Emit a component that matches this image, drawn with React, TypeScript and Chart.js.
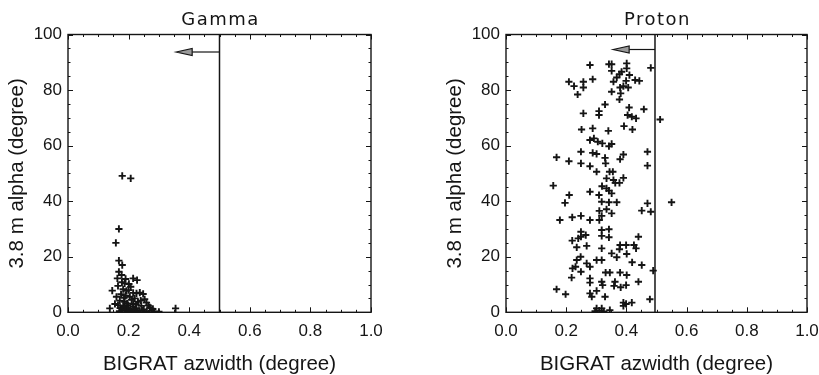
import React, { useEffect, useRef } from 'react';
import { Chart, registerables } from 'chart.js';

Chart.register(...registerables);

// ---------- data ----------
const panelTitles = ['Gamma', 'Proton'];
const xTitle = 'BIGRAT azwidth (degree)';
const yTitle = '3.8 m alpha (degree)';
const xTickValues = [0, 0.2, 0.4, 0.6, 0.8, 1.0];
const yTickValues = [0, 20, 40, 60, 80, 100];
const cutValues = [0.5, 0.495];
const arrowYValues = [93.7, 94.6];
const arrowTipValues = [0.357, 0.356];

const gammaPoints: [number, number][] = [
  [0.179, 49.1], [0.207, 48.2], [0.168, 30.0], [0.158, 25.0], [0.168, 18.6], [0.179, 17.0],
  [0.168, 14.6], [0.177, 13.4], [0.190, 12.0], [0.163, 12.2], [0.215, 12.2], [0.228, 11.6],
  [0.187, 10.4], [0.201, 10.2], [0.165, 9.5], [0.207, 9.2], [0.146, 7.8], [0.182, 8.3],
  [0.193, 7.7], [0.226, 6.8], [0.237, 7.1], [0.248, 6.6], [0.160, 5.6], [0.204, 5.6],
  [0.220, 5.0], [0.253, 4.7], [0.171, 4.2], [0.187, 3.8], [0.231, 3.8], [0.259, 3.5],
  [0.165, 2.6], [0.182, 2.3], [0.198, 2.6], [0.215, 2.0], [0.242, 2.3], [0.138, 1.4],
  [0.355, 1.4], [0.270, 1.8], [0.178, 0.8], [0.190, 0.5], [0.200, 1.2], [0.210, 0.4],
  [0.220, 0.9], [0.235, 0.5], [0.250, 1.0], [0.260, 0.3], [0.275, 0.6], [0.285, 0.3],
  [0.300, 0.2], [0.172, 1.5], [0.185, 1.9], [0.195, 3.2], [0.205, 0.8], [0.215, 3.0],
  [0.225, 1.5], [0.240, 4.2], [0.175, 6.5], [0.185, 5.2], [0.210, 4.5], [0.225, 2.8],
  [0.195, 0.3], [0.230, 0.2], [0.245, 0.6], [0.170, 0.4], [0.155, 3.0], [0.265, 2.5],
  [0.280, 1.2], [0.190, 6.0], [0.200, 8.0], [0.215, 7.0], [0.178, 10.8],
];

const protonPoints: [number, number][] = [
  [0.279, 89.0], [0.342, 89.3], [0.351, 89.3], [0.401, 89.6], [0.481, 88.0], [0.351, 86.9],
  [0.401, 87.8], [0.377, 85.7], [0.368, 84.5], [0.384, 86.6], [0.288, 83.9], [0.410, 85.4],
  [0.399, 83.3], [0.429, 83.6], [0.443, 83.3], [0.209, 83.0], [0.226, 81.4], [0.257, 83.0],
  [0.257, 80.9], [0.238, 78.4], [0.357, 83.0], [0.351, 79.4], [0.379, 80.9], [0.390, 81.4],
  [0.406, 80.9], [0.377, 76.6], [0.381, 78.8], [0.329, 74.8], [0.409, 73.7], [0.458, 73.1],
  [0.309, 72.4], [0.309, 71.0], [0.257, 71.6], [0.404, 71.0], [0.418, 70.4], [0.432, 69.8],
  [0.512, 69.4], [0.392, 67.0], [0.420, 65.8], [0.251, 65.8], [0.288, 66.2], [0.340, 65.3],
  [0.279, 62.0], [0.292, 62.6], [0.305, 61.4], [0.320, 60.8], [0.342, 59.8], [0.351, 60.6],
  [0.249, 57.8], [0.288, 57.4], [0.301, 57.0], [0.168, 55.8], [0.209, 54.4], [0.249, 53.6],
  [0.329, 55.6], [0.331, 53.6], [0.279, 52.6], [0.301, 50.6], [0.344, 50.6], [0.355, 50.6],
  [0.390, 56.8], [0.379, 55.1], [0.470, 57.8], [0.470, 52.8], [0.334, 48.2], [0.357, 47.6],
  [0.377, 46.6], [0.363, 46.6], [0.390, 48.4], [0.157, 45.6], [0.319, 45.4], [0.334, 44.6],
  [0.342, 43.8], [0.279, 43.4], [0.309, 42.2], [0.351, 42.8], [0.210, 42.2], [0.196, 39.4],
  [0.318, 39.8], [0.342, 39.6], [0.368, 39.6], [0.550, 39.6], [0.470, 39.2], [0.451, 36.6],
  [0.481, 36.2], [0.334, 37.1], [0.351, 35.6], [0.310, 36.5], [0.179, 33.2], [0.220, 34.2],
  [0.249, 34.7], [0.279, 33.2], [0.310, 33.2], [0.318, 34.7], [0.249, 29.0], [0.220, 25.8],
  [0.240, 26.6], [0.249, 27.2], [0.265, 27.8], [0.318, 29.6], [0.342, 29.9], [0.318, 27.5],
  [0.342, 27.0], [0.440, 27.2], [0.235, 23.4], [0.268, 23.9], [0.318, 23.0], [0.379, 24.2],
  [0.399, 24.2], [0.425, 24.2], [0.432, 23.0], [0.351, 21.2], [0.377, 22.7], [0.401, 21.0],
  [0.368, 19.8], [0.248, 20.0], [0.235, 18.8], [0.301, 18.8], [0.318, 18.8], [0.419, 18.0],
  [0.451, 17.0], [0.489, 15.0], [0.221, 15.8], [0.231, 16.4], [0.268, 17.6], [0.279, 16.4],
  [0.249, 14.6], [0.218, 12.5], [0.279, 12.2], [0.279, 10.7], [0.331, 14.3], [0.345, 14.3],
  [0.379, 14.3], [0.401, 13.4], [0.318, 11.0], [0.321, 9.8], [0.362, 11.0], [0.359, 9.5],
  [0.381, 9.0], [0.399, 9.8], [0.440, 11.0], [0.168, 8.3], [0.198, 6.5], [0.279, 6.8],
  [0.285, 5.6], [0.301, 7.7], [0.329, 5.6], [0.478, 4.7], [0.390, 3.5], [0.399, 3.0],
  [0.418, 3.5], [0.301, 1.4], [0.318, 1.4], [0.310, 0.6], [0.345, 0.8], [0.390, 2.3],
  [0.296, 0.4], [0.325, 0.3],
];

const panelData = [gammaPoints, protonPoints];

// ---------- layout / style ----------
const H = 375;
const AREA_TOP = 34.5;
const AREA_BOTTOM = 312.3;
const panels = [
  { left: 0, width: 410, areaLeft: 68, areaRight: 371, yTitleX: 17 },
  { left: 410, width: 440, areaLeft: 96, areaRight: 397, yTitleX: 45 },
];
const INK = '#151515';
const SANS = '"Liberation Sans", Arial, sans-serif';

function makeFramePlugin(i: number) {
  return {
    id: 'frame' + i,
    afterDatasetsDraw(chart: any) {
      const { ctx, chartArea } = chart;
      const { left, right, top, bottom } = chartArea;
      const xs = chart.scales.x;
      const ys = chart.scales.y;
      ctx.save();
      ctx.strokeStyle = INK;
      // ticks
      ctx.lineWidth = 1;
      const drawX = (v: number, len: number) => {
        const p = Math.round(xs.getPixelForValue(v)) + 0.5;
        ctx.beginPath();
        ctx.moveTo(p, bottom); ctx.lineTo(p, bottom - len);
        ctx.moveTo(p, top); ctx.lineTo(p, top + len);
        ctx.stroke();
      };
      const drawY = (v: number, len: number) => {
        const p = Math.round(ys.getPixelForValue(v)) + 0.5;
        ctx.beginPath();
        ctx.moveTo(left, p); ctx.lineTo(left + len, p);
        ctx.moveTo(right, p); ctx.lineTo(right - len, p);
        ctx.stroke();
      };
      for (let k = 0; k < xTickValues.length - 1; k++) {
        const a = xTickValues[k], b = xTickValues[k + 1];
        for (let m = 1; m < 4; m++) drawX(a + ((b - a) * m) / 4, 2.5);
      }
      for (let k = 0; k < yTickValues.length - 1; k++) {
        const a = yTickValues[k], b = yTickValues[k + 1];
        for (let m = 1; m < 4; m++) drawY(a + ((b - a) * m) / 4, 2.5);
      }
      xTickValues.forEach((v) => drawX(v, 5));
      yTickValues.forEach((v) => drawY(v, 5));
      // box
      ctx.lineWidth = 1.4;
      ctx.strokeRect(left, top, right - left, bottom - top);
      // cut line
      const cx = xs.getPixelForValue(cutValues[i]);
      ctx.lineWidth = 1.5;
      ctx.beginPath();
      ctx.moveTo(cx, top); ctx.lineTo(cx, bottom);
      ctx.stroke();
      // arrow
      const ay = ys.getPixelForValue(arrowYValues[i]);
      const tx = xs.getPixelForValue(arrowTipValues[i]);
      const headLen = 16;
      ctx.lineWidth = 1.2;
      ctx.beginPath();
      ctx.moveTo(cx, ay); ctx.lineTo(tx + headLen, ay);
      ctx.stroke();
      ctx.beginPath();
      ctx.moveTo(tx, ay);
      ctx.lineTo(tx + headLen, ay - 3.5);
      ctx.lineTo(tx + headLen, ay + 3.5);
      ctx.closePath();
      ctx.fillStyle = '#9a9a9a';
      ctx.fill();
      ctx.stroke();
      // panel title
      ctx.fillStyle = INK;
      ctx.font = '18px "DejaVu Sans", sans-serif';
      (ctx as any).letterSpacing = '1.5px';
      ctx.textAlign = 'center';
      ctx.textBaseline = 'middle';
      ctx.fillText(panelTitles[i], (left + right) / 2 + 1, 20);
      ctx.restore();
    },
  };
}

function buildChart(canvas: HTMLCanvasElement, i: number) {
  const p = panels[i];
  return new Chart(canvas, {
    type: 'scatter',
    data: {
      datasets: [
        {
          data: panelData[i].map(([x, y]) => ({ x, y })),
          pointStyle: 'cross',
          pointRadius: 3.6,
          pointBorderWidth: 1.9,
          borderColor: INK,
          backgroundColor: INK,
        } as any,
      ],
    },
    options: {
      animation: false,
      responsive: false,
      maintainAspectRatio: false,
      devicePixelRatio: 1,
      layout: { padding: { left: 0, top: AREA_TOP, right: p.width - p.areaRight, bottom: 0 } },
      plugins: {
        legend: { display: false },
        tooltip: { enabled: false },
        title: { display: false },
      },
      scales: {
        x: {
          type: 'linear',
          min: 0,
          max: 1,
          grid: { display: false, drawTicks: false },
          border: { display: false },
          afterBuildTicks: (s: any) => {
            s.ticks = xTickValues.map((v) => ({ value: v }));
          },
          afterFit: (s: any) => {
            s.height = H - AREA_BOTTOM;
            s.paddingLeft = 0;
            s.paddingRight = 0;
          },
          ticks: {
            autoSkip: false,
            maxRotation: 0,
            padding: 9,
            color: INK,
            font: { family: SANS, size: 17 },
            callback: (v: any) => Number(v).toFixed(1),
          },
          title: {
            display: true,
            text: xTitle,
            color: INK,
            font: { family: SANS, size: 20.5, lineHeight: 1 },
            padding: { top: 0, bottom: 0 },
          },
        },
        y: {
          type: 'linear',
          min: 0,
          max: 100,
          grid: { display: false, drawTicks: false },
          border: { display: false },
          afterBuildTicks: (s: any) => {
            s.ticks = yTickValues.map((v) => ({ value: v }));
          },
          afterFit: (s: any) => {
            s.width = p.areaLeft;
            s.paddingTop = 0;
            s.paddingBottom = 0;
          },
          ticks: {
            autoSkip: false,
            padding: 6,
            color: INK,
            font: { family: SANS, size: 17 },
            callback: (v: any) => String(v),
          },
          title: {
            display: true,
            text: yTitle,
            color: INK,
            font: { family: SANS, size: 20.5, lineHeight: 1 },
            padding: { top: p.yTitleX - 10, bottom: 0 },
          },
        },
      },
    } as any,
    plugins: [makeFramePlugin(i)],
  });
}

export default function App() {
  const ref0 = useRef<HTMLCanvasElement>(null);
  const ref1 = useRef<HTMLCanvasElement>(null);

  useEffect(() => {
    const charts: Chart[] = [];
    if (ref0.current) charts.push(buildChart(ref0.current, 0));
    if (ref1.current) charts.push(buildChart(ref1.current, 1));
    return () => charts.forEach((c) => c.destroy());
  }, []);

  return (
    <div
      style={{
        position: 'fixed',
        left: 0,
        top: 0,
        width: 819,
        height: H,
        overflow: 'hidden',
        background: '#fff',
      }}
    >
      <canvas ref={ref0} width={panels[0].width} height={H} style={{ position: 'absolute', left: panels[0].left, top: 0 }} />
      <canvas ref={ref1} width={panels[1].width} height={H} style={{ position: 'absolute', left: panels[1].left, top: 0 }} />
    </div>
  );
}
